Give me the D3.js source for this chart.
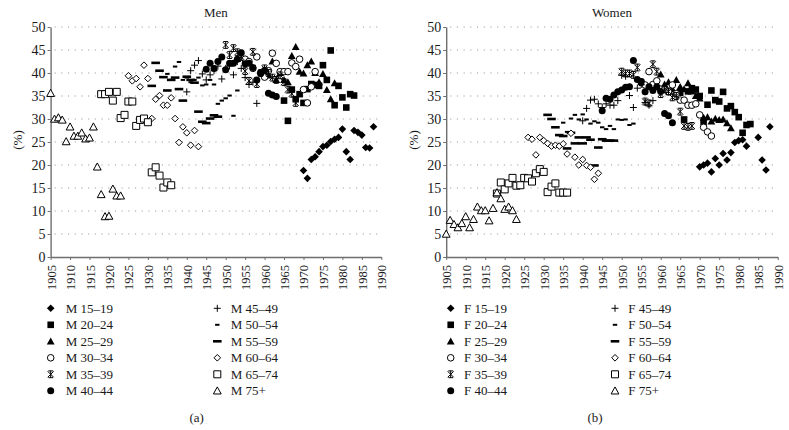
<!DOCTYPE html>
<html><head><meta charset="utf-8">
<script src="https://cdn.jsdelivr.net/npm/d3@7"></script>
<style>
body{margin:0;background:#fff}
svg{display:block}
text{font-family:"Liberation Serif","DejaVu Serif",serif;fill:#1a1a1a}
</style>
</head><body>
<svg id="c" width="789" height="430"></svg>
<script>
// ---------- data ----------
const ageGroups = ["15–19","20–24","25–29","30–34","35–39","40–44","45–49","50–54","55–59","60–64","65–74","75+"];
const yTickValues = [0,5,10,15,20,25,30,35,40,45,50];
const xTickValues = [1905,1910,1915,1920,1925,1930,1935,1940,1945,1950,1955,1960,1965,1970,1975,1980,1985,1990];

// first year of each age-group series
const menStartYears   = [1970,1965,1960,1955,1950,1945,1940,1935,1931,1925,1918,1905];
const womenStartYears = [1970,1965,1960,1955,1950,1945,1940,1935,1931,1926,1918,1905];

// Men (%)
const m15_19 = [18.8,17.1,21.2,21.8,22.9,24.0,24.3,25.1,25.6,26.0,27.8,22.9,21.2,27.5,27.1,26.5,23.8,23.7,28.3];
const m20_24 = [34.0,29.6,36.4,34.3,35.4,33.5,36.5,37.6,37.4,37.2,41.7,38.5,44.9,33.0,37.2,34.7,32.5,35.4,35.1];
const m25_29 = [40.0,39.5,42.5,38.5,40.0,38.5,38.0,43.7,45.7,40.3,39.9,41.7,42.5,40.0,38.0,39.8,36.3,34.3,37.8];
const m30_34 = [43.0,42.5,41.0,43.5,40.0,39.1,40.5,44.3,42.1,40.3,40.3,40.3,42.2,41.4,43.0,36.4,33.5,37.0,40.3];
const m35_39 = [46.1,43.9,45.4,44.5,43.5,40.4,38.3,44.6,37.6,40.0,41.0,40.0,39.0,38.5,39.5,38.0,36.4,35.5,33.5];
const m40_44 = [40.8,42.1,41.0,42.5,43.5,40.7,42.1,42.1,43.0,44.4,42.0,42.1,41.2,38.5,40.0,40.6,35.6,35.2,34.9];
const m45_49 = [35.9,40.5,41.7,42.7,39.8,38.5,39.6,40.5,41.5,38.7,41.0,41.5,39.6,42.5,41.0,39.0,37.5,38.0,33.4];
const m50_54 = [39.8,38.5,41.4,42.4,38.5,39.0,38.0,38.5,39.0,37.3,37.5,38.5,37.5,33.3,34.0,34.5,35.1,30.7,36.2];
const m55_59 = [37.2,42.2,40.5,39.1,36.2,38.5,39.0,36.5,34.0,39.2,38.5,37.9,31.6,29.4,29.1,30.1,30.8,30.5];
const m60_64 = [39.4,38.3,38.8,37.0,41.7,38.8,30.1,34.3,35.1,33.0,33.0,34.6,30.1,24.9,28.3,27.0,24.3,27.5,24.0];
const m65_74 = [35.4,35.4,35.9,34.0,35.9,30.2,30.9,33.8,33.8,28.5,29.8,30.1,29.3,18.4,19.5,17.7,15.1,16.2,15.6];
const m75p   = [35.6,30.0,30.3,29.8,25.1,28.3,26.3,26.3,27.0,25.7,25.9,28.3,19.6,13.6,8.8,8.9,14.8,13.3,13.3];

// Women (%)
const f15_19 = [19.6,20.0,20.4,18.5,21.4,20.0,22.5,21.1,22.7,24.9,25.3,25.5,24.1,null,null,26.0,21.1,18.9,28.3];
const f20_24 = [35.7,29.9,36.0,36.7,36.4,35.0,29.4,33.1,36.2,34.1,33.8,35.9,32.3,32.8,31.5,30.4,27.0,28.7,28.9];
const f25_29 = [39.7,37.5,38.0,36.5,38.5,37.0,36.5,37.8,36.0,35.0,34.5,30.3,30.4,29.5,30.1,29.8,29.9,29.1,28.0];
const f30_34 = [38.0,37.4,40.3,37.5,38.3,36.5,36.4,35.9,37.4,35.5,34.1,34.1,33.0,33.0,33.3,30.9,28.2,27.2,26.3];
const f35_39 = [40.3,39.9,39.9,39.6,41.2,38.0,33.8,33.4,41.9,40.3,35.4,36.5,36.0,34.7,35.0,31.6,28.5,28.3,28.5];
const f40_44 = [31.8,34.5,34.3,35.2,35.9,36.3,36.9,37.0,42.7,38.6,38.1,35.9,37.0,36.2,37.0,36.0,31.2,30.7,29.2];
const f45_49 = [29.6,32.3,34.1,34.3,33.3,32.5,33.3,33.0,33.0,34.0,39.5,39.3,35.1,32.5,36.7,37.5,33.6,33.0,34.0];
const f50_54 = [29.2,27.2,30.1,30.9,29.9,31.0,29.9,29.0,29.5,29.2,28.2,27.8,28.5,27.8,29.9,29.8,29.9,28.7,29.0];
const f55_59 = [30.9,30.0,28.2,26.5,26.3,23.6,27.0,24.7,26.0,24.7,26.0,25.5,19.9,23.8,25.6,25.3,25.3,25.3];
const f60_64 = [26.0,25.6,22.2,26.0,25.3,24.7,24.1,24.3,24.1,24.6,22.4,26.9,21.7,20.0,21.2,19.9,19.5,16.9,18.2];
const f65_74 = [13.8,16.2,14.7,16.0,17.2,15.5,15.6,17.2,17.1,16.4,18.2,19.1,18.5,14.1,15.3,16.0,14.0,14.0,14.0];
const f75p   = [5.0,8.0,7.1,6.4,7.3,8.8,6.4,8.2,10.9,10.1,10.1,7.9,10.6,14.0,12.7,10.4,10.9,10.1,8.2];

const menSeries   = [m15_19,m20_24,m25_29,m30_34,m35_39,m40_44,m45_49,m50_54,m55_59,m60_64,m65_74,m75p];
const womenSeries = [f15_19,f20_24,f25_29,f30_34,f35_39,f40_44,f45_49,f50_54,f55_59,f60_64,f65_74,f75p];

// ---------- marker shapes ----------
const shapes = [
  {d:"M0,-3.8L3.8,0L0,3.8L-3.8,0Z", fill:"#000", stroke:"none"},                  // filled diamond
  {d:"M-3.3,-3.3H3.3V3.3H-3.3Z", fill:"#000", stroke:"none"},                      // filled square
  {d:"M0,-3.9L3.9,3.1H-3.9Z", fill:"#000", stroke:"none"},                          // filled triangle
  {d:"M3.3,0A3.3,3.3 0 1,1 -3.3,0A3.3,3.3 0 1,1 3.3,0Z", fill:"#fff", stroke:"#000"}, // open circle
  {d:"M-3,-3L3,3M3,-3L-3,3M0,-3.6V3.6M-2.4,-3.4H2.4M-2.4,3.4H2.4", fill:"none", stroke:"#000"}, // asterisk
  {d:"M3.5,0A3.5,3.5 0 1,1 -3.5,0A3.5,3.5 0 1,1 3.5,0Z", fill:"#000", stroke:"none"}, // filled circle
  {d:"M-3.5,0H3.5M0,-3.5V3.5", fill:"none", stroke:"#000"},                          // plus
  {d:"M-2.2,-1H2.2V1H-2.2Z", fill:"#000", stroke:"none"},                            // short dash
  {d:"M-4.3,-1.3H4.3V1.3H-4.3Z", fill:"#000", stroke:"none"},                        // long dash
  {d:"M0,-3.3L3.3,0L0,3.3L-3.3,0Z", fill:"#fff", stroke:"#000"},                    // open diamond
  {d:"M-3.5,-3.5H3.5V3.5H-3.5Z", fill:"#fff", stroke:"#000"},                       // open square
  {d:"M0,-3.9L3.9,3.2H-3.9Z", fill:"#fff", stroke:"#000"}                           // open triangle
];

const svg = d3.select("#c");
const y = d3.scaleLinear().domain([0,50]).range([257,27]);

const panels = [
  {title:"Men", prefix:"M", caption:"(a)", x0:50.6, x1:381.3, starts:menStartYears, series:menSeries,
   legMark:[50.7,217.3], legText:[65.7,230.7], capX:196.7},
  {title:"Women", prefix:"F", caption:"(b)", x0:446.2, x1:777.7, starts:womenStartYears, series:womenSeries,
   legMark:[450.7,615], legText:[464,628.3], capX:595}
];

panels.forEach(p => {
  const x = d3.scaleLinear().domain([1905,1990]).range([p.x0,p.x1]);
  const g = svg.append("g");

  // dotted gridlines
  g.selectAll("line.grid").data(yTickValues.filter(v=>v>0)).join("line")
    .attr("x1", p.x0+4).attr("x2", p.x1).attr("y1", d=>y(d)).attr("y2", d=>y(d))
    .attr("stroke","#9a9a9a").attr("stroke-width",1.1).attr("stroke-dasharray","1.1,5.6");

  // y axis
  const ya = g.append("g").attr("transform",`translate(${p.x0},0)`)
    .call(d3.axisLeft(y).tickValues(yTickValues).tickSize(3).tickSizeOuter(0).tickFormat(d3.format("d")));
  ya.select(".domain").attr("stroke","#6e6e6e").attr("stroke-width",1.4);
  ya.selectAll(".tick line").attr("stroke","#6e6e6e");
  ya.selectAll(".tick text").attr("x",-5).style("font-size","14px").style("font-family",'"Liberation Serif",serif').attr("fill","#1a1a1a");

  // x axis
  const xa = g.append("g").attr("transform","translate(0,257)")
    .call(d3.axisBottom(x).tickValues(xTickValues).tickSize(3).tickSizeOuter(0).tickFormat(d3.format("d")));
  xa.select(".domain").attr("stroke","#6e6e6e").attr("stroke-width",1.4);
  xa.selectAll(".tick line").attr("stroke","#6e6e6e");
  xa.selectAll(".tick text")
    .attr("transform","rotate(-90)").attr("x",-8).attr("y",0).attr("dy","0.36em")
    .style("text-anchor","end").style("font-size","12.5px").style("font-family",'"Liberation Serif",serif').attr("fill","#1a1a1a");

  // y label
  g.append("text").attr("transform",`translate(${p.x0-33},140) rotate(-90)`)
    .attr("text-anchor","middle").attr("dy","0.35em").style("font-size","13px").text("(%)");

  // title
  g.append("text").attr("x",(p.x0+p.x1)/2).attr("y",17).attr("text-anchor","middle")
    .style("font-size","13px").text(p.title);

  // points
  p.series.forEach((vals,i) => {
    const pts = vals.map((v,k)=>({year:p.starts[i]+k, v})).filter(d=>d.v!=null);
    const s = shapes[i];
    g.append("g").selectAll("path").data(pts).join("path")
      .attr("transform", d=>`translate(${x(d.year)},${y(d.v)})`)
      .attr("d", s.d).attr("fill", s.fill).attr("stroke", s.stroke).attr("stroke-width", 1);
  });

  // legend
  ageGroups.forEach((a,i) => {
    const col = i<6 ? 0 : 1, row = i%6;
    const ly = 308.3 + row*16.5;
    const s = shapes[i];
    g.append("path").attr("transform",`translate(${p.legMark[col]},${ly})`)
      .attr("d", s.d).attr("fill", s.fill).attr("stroke", s.stroke).attr("stroke-width",1);
    g.append("text").attr("x", p.legText[col]).attr("y", ly).attr("dy","0.35em")
      .style("font-size","13px").text(`${p.prefix} ${a}`);
  });

  // caption
  g.append("text").attr("x", p.capX).attr("y", 417).attr("dy","0.35em").attr("text-anchor","middle")
    .style("font-size","13px").text(p.caption);
});
</script>
</body></html>
